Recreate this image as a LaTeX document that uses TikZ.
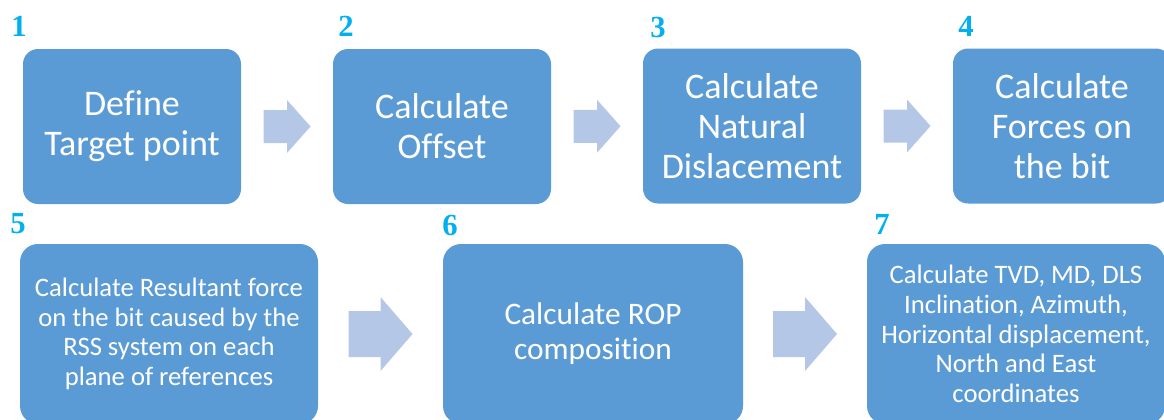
\documentclass[tikz,border=0pt]{standalone}
\usepackage{fontspec}
\setmainfont{Carlito}[Ligatures={NoCommon,NoContextual}]
\newfontfamily\numfont{Liberation Serif}
\usetikzlibrary{calc}

\definecolor{boxblue}{HTML}{5B9BD5}
\definecolor{arrowblue}{HTML}{B4C7E7}
\definecolor{numcyan}{HTML}{00B0F0}

% block arrow centred on a coordinate: half length, half head height, half shaft height
\newcommand\blockarrow[4]{%
  \fill[arrowfill] ($(#1)+(-#2,-#4)$) -- ($(#1)+(0,-#4)$) -- ($(#1)+(0,-#3)$)
    -- ($(#1)+(#2,0)$) -- ($(#1)+(0,#3)$) -- ($(#1)+(0,#4)$)
    -- ($(#1)+(-#2,#4)$) -- cycle;}

\tikzset{
  arrowfill/.style={fill=arrowblue},
  stepbox/.style={fill=boxblue, text=white, align=center, inner sep=0pt},
  topbox/.style={stepbox, minimum width=163.5pt, minimum height=116.25pt,
    rounded corners=11.25pt, font=\fontsize{27pt}{30pt}\selectfont},
  lowbox/.style={stepbox, minimum width=223.5pt, minimum height=135pt,
    rounded corners=13.5pt, font=\fontsize{20pt}{22.3pt}\selectfont},
  stepnum/.style={text=numcyan, inner sep=0pt,
    font=\numfont\bfseries\fontsize{23pt}{25pt}\selectfont},
}

\begin{document}
\begin{tikzpicture}[x=0.75pt, y=-0.75pt]
\useasboundingbox (0,0) rectangle (1164,419);
\clip (0,0) rectangle (1164,419);

% first row of steps
\node[topbox] (b1) at (132,126.5) {Define\\Target point};
\node[topbox] (b2) at (442,126.5) {Calculate\\Offset};
\node[topbox] (b3) at (752,126) {Calculate\\Natural\\Dislacement};
\node[topbox] (b4) at (1062,126) {Calculate\\Forces on\\the bit};

% second row of steps
\node[lowbox] (b5) at (169,334) {Calculate Resultant force\\on the bit caused by the\\RSS system on each\\plane of references};
\node[lowbox, minimum width=225pt, font=\fontsize{23.5pt}{26.3pt}\selectfont] (b6) at (593,334) {Calculate ROP\\composition};
\node[lowbox] (b7) at (1016,334) {Calculate TVD, MD, DLS\\Inclination, Azimuth,\\Horizontal displacement,\\North and East\\coordinates};

% step numbers
\node[stepnum] (n1) at (19,26) {1};
\node[stepnum] (n2) at (346,26) {2};
\node[stepnum] (n3) at (658,27) {3};
\node[stepnum] (n4) at (966,26) {4};
\node[stepnum] (n5) at (18,224) {5};
\node[stepnum] (n6) at (450,225) {6};
\node[stepnum] (n7) at (882,224) {7};

% arrows between steps
\coordinate (a12) at ($(b1.east)!0.5!(b2.west)$);
\coordinate (a23) at ($(b2.east)!0.5!(b3.west)$);
\coordinate (a34) at ($(b3.east)!0.5!(b4.west)$);
\coordinate (a56) at ($(b5.east)!0.5!(b6.west)$);
\coordinate (a67) at ($(b6.east)!0.5!(b7.west)$);
\blockarrow{a12}{23.5}{26.5}{16.5}
\blockarrow{a23}{23.5}{26.5}{16.5}
\blockarrow{a34}{23.5}{26.5}{16.5}
\blockarrow{a56}{32}{37}{23}
\blockarrow{a67}{32}{37}{23}
\end{tikzpicture}
\end{document}
